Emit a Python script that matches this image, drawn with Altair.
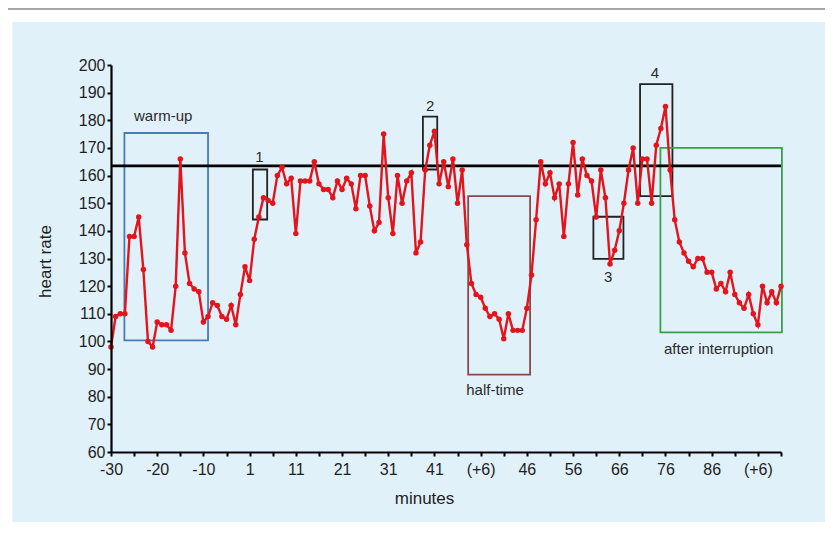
import json
import altair as alt
import pandas as pd

# heart-rate readings, one per minute slot (slot 0 = "-30")
hr = [98, 109, 110, 110, 138, 138, 145, 126, 100, 98, 107, 106, 106, 104, 120, 166, 132, 121, 119, 118,
      107, 109, 114, 113, 109, 108, 113, 106, 117, 127, 122, 137, 145, 152, 151, 150, 160, 163, 157, 159,
      139, 158, 158, 158, 165, 157, 155, 155, 152, 158, 155, 159, 157, 148, 160, 160, 149, 140, 143, 175,
      152, 139, 160, 150, 158, 161, 132, 136, 162, 171, 176, 157, 165, 156, 166, 150, 162, 135, 121, 117,
      116, 112, 109, 110, 108, 101, 110, 104, 104, 104, 112, 124, 144, 165, 157, 161, 152, 157, 138, 157,
      172, 153, 166, 160, 158, 145, 162, 152, 128, 133, 140, 150, 162, 170, 150, 166, 166, 150, 171, 177,
      185, 162, 144, 136, 132, 129, 127, 130, 130, 125, 125, 119, 121, 118, 125, 117, 114, 112, 117, 110,
      106, 120, 114, 118, 114, 120]
slot = list(range(len(hr)))

minutes_labels = ["-30", "-20", "-10", "1", "11", "21", "31", "41", "(+6)", "46", "56", "66", "76", "86", "(+6)"]
x_ticks = list(range(0, 146, 5))
y_ticks = list(range(60, 201, 10))

box_x0 = [2.9, 30.7, 67.5, 77.3, 104.4, 114.5, 118.9]
box_x1 = [21.0, 33.8, 70.6, 90.7, 110.9, 121.5, 145.2]
box_y0 = [100.4, 144.1, 162.2, 88.0, 129.9, 152.6, 103.3]
box_y1 = [175.4, 162.2, 181.3, 152.6, 145.1, 193.1, 170.0]
box_col = ["#4a7bb7", "#222222", "#222222", "#8a4848", "#222222", "#222222", "#3a9f4c"]

lab_text = ["warm-up", "1", "2", "half-time", "3", "4", "after interruption"]
lab_x = [11.3, 32.1, 69.05, 83.1, 107.6, 117.7, 131.5]
lab_y = [181.7, 166.6, 185.2, 82.3, 123.4, 197.0, 97.2]

threshold = [163.5]

df = pd.DataFrame({"u": slot, "hr": hr})
boxes = pd.DataFrame({"u": box_x0, "u2": box_x1, "hr": box_y0, "hr2": box_y1, "col": box_col})
labels = pd.DataFrame({"u": lab_x, "hr": lab_y, "t": lab_text})
thr = pd.DataFrame({"u": [0], "u2": [145], "hr": threshold})
dummy = pd.DataFrame({"a": [0]})

label_expr = "datum.value % 10 === 0 ? " + json.dumps(minutes_labels) + "[datum.value / 10] : ''"

x_axis = alt.Axis(values=x_ticks, labelExpr=label_expr, grid=False, labelFlush=False, labelOverlap=False,
                  tickSize=4, tickWidth=2, domainWidth=2.2, domainColor="black", tickColor="black",
                  labelFontSize=16, labelPadding=5, labelColor="#1e1e1e",
                  titleFontSize=17, titleFontWeight="normal", titleColor="#1e1e1e",
                  titleX=313, titleY=46, titleAlign="center", titleBaseline="middle", zindex=1)
y_axis = alt.Axis(values=y_ticks, grid=False, tickSize=4, tickWidth=2, domainWidth=2.2, domainColor="black",
                  tickColor="black", labelFontSize=16, labelPadding=2, labelColor="#1e1e1e",
                  titleFontSize=17, titleFontWeight="normal", titleColor="#1e1e1e",
                  titleX=-66, titleY=196, titleAlign="center", titleBaseline="middle", titleAngle=270,
                  zindex=1)

xs = alt.Scale(domain=[0, 145], nice=False, zero=False)
ys = alt.Scale(domain=[60, 200], nice=False, zero=False)


def X(f="u"):
    return alt.X(f"{f}:Q", scale=xs, axis=x_axis, title="minutes")


def Y(f="hr"):
    return alt.Y(f"{f}:Q", scale=ys, axis=y_axis, title="heart rate")


panel = alt.Chart(dummy).mark_rect(color="#e1f1fa").encode(
    x=alt.value(-98.7), x2=alt.value(720), y=alt.value(-43), y2=alt.value(480))
topline = alt.Chart(dummy).mark_rule(color="#a6a6a6", strokeWidth=2).encode(
    x=alt.value(-103), x2=alt.value(720), y=alt.value(-56))

rects = alt.Chart(boxes).mark_rect(fillOpacity=0, strokeWidth=1.8).encode(
    x=X(), x2="u2:Q", y=Y(), y2="hr2:Q", stroke=alt.Color("col:N", scale=None))

hline = alt.Chart(thr).mark_rule(color="black", strokeWidth=2.6).encode(x=X(), x2="u2:Q", y=Y())

line = alt.Chart(df).mark_line(color="#e3141b", strokeWidth=2.4).encode(x=X(), y=Y())
pts = alt.Chart(df).mark_circle(color="#e3141b", size=30, opacity=1).encode(x=X(), y=Y())

texts = alt.Chart(labels).mark_text(fontSize=15, color="#2a2a2a", baseline="middle", align="center").encode(
    x=X(), y=Y(), text="t:N")

chart = alt.layer(panel, topline, rects, hline, line, pts, texts).properties(
    width=670, height=387,
    autosize=alt.AutoSizeParams(type="none"),
    padding={"left": 103, "top": 57, "right": 44, "bottom": 70},
    background="white",
).configure(font="Liberation Sans").configure_view(strokeOpacity=0)

chart.save("out.html", embed_options={"renderer": "svg", "actions": False})
